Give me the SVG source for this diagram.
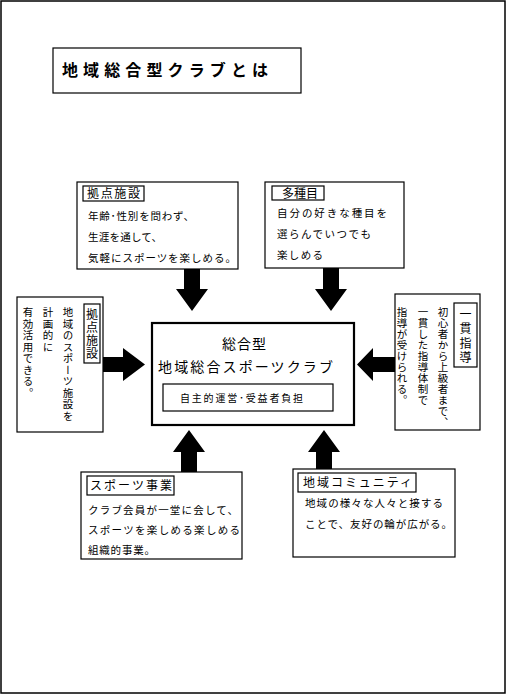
<svg xmlns="http://www.w3.org/2000/svg" width="506" height="694" viewBox="0 0 506 694">
<style>
.box{fill:#fff;stroke:#000;stroke-width:1.2}
.lbl{fill:#fff;stroke:#000;stroke-width:1.2}
text{font-family:"Noto Sans CJK JP","Noto Sans",sans-serif;fill:#000}
.t{font-size:10.5px}
.l{font-size:12px}
.v{writing-mode:vertical-rl;font-size:10.5px}
.vl{writing-mode:vertical-rl;font-size:12px}
.arr{fill:#000}
</style>
<rect x="1" y="1" width="504" height="692" fill="#fff" stroke="#000" stroke-width="1.5"/>
<g id="title">
<rect x="53" y="48" width="248" height="45" class="box"/>
<text x="62" y="76" font-size="16" font-weight="bold" textLength="206" lengthAdjust="spacing">地域総合型クラブとは</text>
</g>
<g id="node-kyoten-top">
<rect x="77" y="182" width="161" height="87" class="box"/>
<rect x="83" y="186" width="61" height="15" class="lbl"/>
<text x="87" y="198" class="l" textLength="53" lengthAdjust="spacing">拠点施設</text>
<text x="88" y="220" class="t" textLength="106" lengthAdjust="spacing">年齢･性別を問わず、</text>
<text x="88" y="241" class="t" textLength="74" lengthAdjust="spacing">生涯を通して、</text>
<text x="88" y="262" class="t" textLength="148" lengthAdjust="spacing">気軽にスポーツを楽しめる。</text>
</g>
<g id="node-tashumoku">
<rect x="265" y="182" width="139" height="86" class="box"/>
<rect x="272" y="186" width="52" height="14" class="lbl"/>
<text x="282" y="198" class="l" textLength="36" lengthAdjust="spacing">多種目</text>
<text x="277" y="217" class="t" textLength="110" lengthAdjust="spacing">自分の好きな種目を</text>
<text x="277" y="238" class="t" textLength="94" lengthAdjust="spacing">選らんでいつでも</text>
<text x="277" y="259" class="t" textLength="46" lengthAdjust="spacing">楽しめる</text>
</g>
<g id="node-kyoten-left">
<rect x="17" y="297" width="86" height="135" class="box"/>
<rect x="84" y="304" width="16" height="59" class="lbl"/>
<text x="92" y="308" class="vl" letter-spacing="1">拠点施設</text>
<text x="68" y="307" class="v" letter-spacing="1">地域のスポーツ施設を</text>
<text x="48" y="307" class="v" letter-spacing="1">計画的に</text>
<text x="28" y="307" class="v" letter-spacing="1">有効活用できる。</text>
</g>
<g id="node-ikkan">
<rect x="395" y="294" width="85" height="136" class="box"/>
<rect x="454" y="303" width="23" height="64" class="lbl"/>
<text x="465.5" y="308" class="vl" letter-spacing="2.5">一貫指導</text>
<text x="443" y="307" class="v" letter-spacing="0.5">初心者から上級者まで、</text>
<text x="423" y="307" class="v" letter-spacing="0.5">一貫した指導体制で</text>
<text x="402" y="307" class="v" letter-spacing="0.5">指導が受けられる。</text>
</g>
<g id="node-center">
<rect x="152" y="323" width="202" height="102" fill="#fff" stroke="#000" stroke-width="2.2"/>
<text x="222" y="349" font-size="14" textLength="44" lengthAdjust="spacing">総合型</text>
<text x="158" y="372" font-size="14" textLength="175" lengthAdjust="spacing">地域総合スポーツクラブ</text>
<rect x="163" y="384" width="170" height="27" class="lbl"/>
<text x="180" y="402" font-size="10" textLength="123" lengthAdjust="spacing">自主的運営･受益者負担</text>
</g>
<g id="node-sports">
<rect x="81" y="472" width="161" height="87" class="box"/>
<rect x="87" y="476" width="87" height="19" class="lbl"/>
<text x="90" y="490" class="l" textLength="82" lengthAdjust="spacing">スポーツ事業</text>
<text x="88" y="514" class="t" textLength="150" lengthAdjust="spacing">クラブ会員が一堂に会して、</text>
<text x="88" y="534" class="t" textLength="152" lengthAdjust="spacing">スポーツを楽しめる楽しめる</text>
<text x="88" y="554" class="t" textLength="67" lengthAdjust="spacing">組織的事業。</text>
</g>
<g id="node-community">
<rect x="293" y="469" width="162" height="88" class="box"/>
<rect x="298" y="473" width="118" height="19" class="lbl"/>
<text x="303" y="487" class="l" textLength="109" lengthAdjust="spacing">地域コミュニティ</text>
<text x="305" y="507" class="t" textLength="138" lengthAdjust="spacing">地域の様々な人々と接する</text>
<text x="305" y="528" class="t" textLength="147" lengthAdjust="spacing">ことで、友好の輪が広がる。</text>
</g>
<g id="connectors">
<polygon class="arr" points="184,269 200,269 200,289 208,289 192,311 176,289 184,289"/>
<polygon class="arr" points="323,268 339,268 339,289 347,289 331,311 315,289 323,289"/>
<polygon class="arr" points="103,357 123,357 123,348 145,364.5 123,381 123,372 103,372"/>
<polygon class="arr" points="395,357 373,357 373,348 357,364.5 373,381 373,372 395,372"/>
<polygon class="arr" points="181,472 197,472 197,452 205,452 189,430 173,452 181,452"/>
<polygon class="arr" points="316,469 332,469 332,452 340,452 324,430 308,452 316,452"/>
</g>
</svg>
